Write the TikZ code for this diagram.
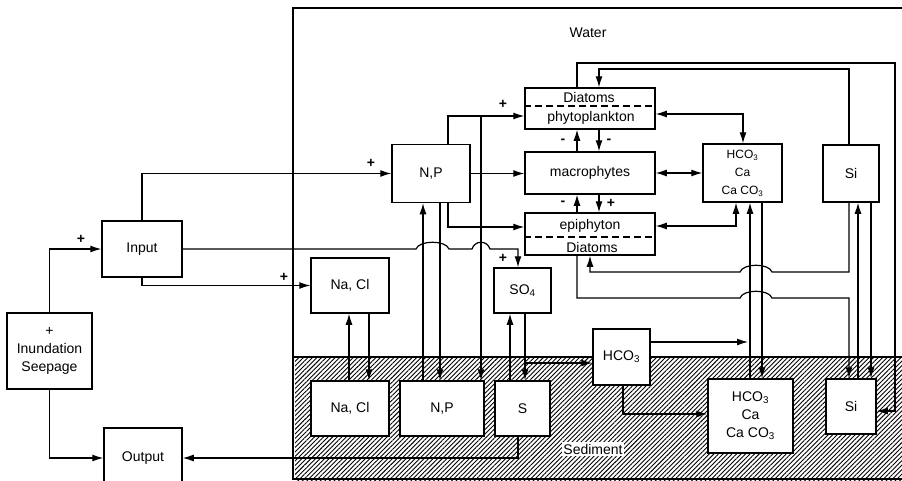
\documentclass[tikz,border=0pt]{standalone}
\usepackage{fontspec}
\setmainfont{Liberation Sans}
\usetikzlibrary{arrows.meta,patterns.meta}
\begin{document}
\begin{tikzpicture}[x=1pt,y=-1pt,
  box/.style={draw,line width=1.5pt,fill=white,inner sep=0pt,font=\fontsize{14}{18}\selectfont,align=center},
  sbox/.style={box,font=\fontsize{12}{18}\selectfont},
  lbl/.style={inner sep=0pt,font=\fontsize{14}{17}\selectfont},
  sgn/.style={inner sep=0pt,font=\fontsize{14}{14}\selectfont\bfseries},
  conn/.style={line width=1.2pt},
  arr/.style={conn,-{Latex[length=11pt,width=7pt]}},
  arr2/.style={conn,{Latex[length=11pt,width=7pt]}-{Latex[length=11pt,width=7pt]}},
  dsh/.style={line width=1.2pt,dash pattern=on 7pt off 4pt},
]
\useasboundingbox (0,0) rectangle (902,480);
\clip (0,0) rectangle (902,480);
% regions
\fill[pattern={Lines[angle=45,distance=3.2pt,line width=0.9pt]}] (295,357) rectangle (902,480);
\draw[line width=1.4pt] (293,357) -- (902,357);
\draw[line width=1.5pt] (902,8) -- (293,8) -- (293,479) -- (902,479);
% columns and rows
\coordinate (cA) at (349,0); \coordinate (cB) at (369,0);
\coordinate (cC) at (423,0); \coordinate (cD) at (440,0);
\coordinate (cE) at (448,0); \coordinate (cF) at (481,0);
\coordinate (cG) at (510,0); \coordinate (cH) at (518,0);
\coordinate (cI) at (525,0); \coordinate (cJ) at (577,0);
\coordinate (cK) at (590,0); \coordinate (cL) at (599,0);
\coordinate (cM) at (623,0); \coordinate (cN) at (736,0);
\coordinate (cO) at (743,0); \coordinate (cP) at (750,0);
\coordinate (cQ) at (762,0); \coordinate (cR) at (849,0);
\coordinate (cS) at (858,0); \coordinate (cT) at (871,0);
\coordinate (cU) at (895,0);
\coordinate (r63) at (0,63); \coordinate (r69) at (0,69);
\coordinate (r106) at (0,106); \coordinate (r114) at (0,114);
\coordinate (r116) at (0,116); \coordinate (r226) at (0,226);
\coordinate (r227) at (0,227); \coordinate (r237) at (0,237);
\coordinate (r249) at (0,249); \coordinate (r272) at (0,272);
\coordinate (r298) at (0,298); \coordinate (r342) at (0,342);
\coordinate (r363) at (0,363); \coordinate (r411) at (0,411);
\coordinate (r414) at (0,414);
\coordinate (j116) at (481,116);
% boxes
\node[box,minimum width=85pt,minimum height=76pt] (inund) at (49.5,351) {+\\Inundation\\Seepage};
\node[box,minimum width=80pt,minimum height=56pt] (input) at (142,249) {Input};
\node[box,minimum width=78pt,minimum height=60pt] (output) at (143,458) {Output};
\node[box,minimum width=78pt,minimum height=58pt] (npw) at (431,173.5) {N,P};
\node[box,minimum width=78pt,minimum height=55pt] (naclw) at (350,285.5) {Na, Cl};
\node[box,minimum width=57pt,minimum height=45pt] (so4) at (522.5,290.5) {SO\textsubscript{4}};
\node[box,minimum width=130pt,minimum height=41pt] (phyto) at (590,108.5) {};
\node[box,minimum width=130pt,minimum height=42pt] (macro) at (590,173) {macrophytes};
\node[box,minimum width=130pt,minimum height=42pt] (epi) at (590,234) {};
\node[sbox,minimum width=79pt,minimum height=58pt] (hcw) at (742.5,173) {HCO\textsubscript{3}\\Ca\\Ca CO\textsubscript{3}};
\node[box,minimum width=56pt,minimum height=57pt] (siw) at (851,173.5) {Si};
\node[box,minimum width=57pt,minimum height=56pt] (hci) at (621.5,357) {HCO\textsubscript{3}};
\node[box,minimum width=78pt,minimum height=55pt] (nacls) at (350,408.5) {Na, Cl};
\node[box,minimum width=84pt,minimum height=55pt] (nps) at (442,408.5) {N,P};
\node[box,minimum width=55pt,minimum height=55pt] (ss) at (522.5,408.5) {S};
\node[box,minimum width=85pt,minimum height=74pt] (hcs) at (750.5,416) {HCO\textsubscript{3}\\Ca\\Ca CO\textsubscript{3}};
\node[box,minimum width=50pt,minimum height=55pt] (sis) at (851,406.5) {Si};
% split boxes
\draw[dsh] (phyto.west |- r106) -- (phyto.east |- r106);
\draw[dsh] (epi.west |- r237) -- (epi.east |- r237);
\node[lbl] (phytoA) at (589,97) {Diatoms};
\node[lbl] (phytoB) at (591,118) {phytoplankton};
\node[lbl] (epiA) at (590,226) {epiphyton};
\node[lbl] (epiB) at (592,247) {Diatoms};
% labels
\node[lbl] (water) at (588,33) {Water};
\node[lbl,fill=white,inner sep=1.5pt] (sed) at (593,449) {Sediment};
\node[sgn] (p1) at (81,239) {+};
\node[sgn] (p2) at (284,277) {+};
\node[sgn] (p3) at (371,163) {+};
\node[sgn] (p4) at (503,104) {+};
\node[sgn] (p5) at (503,258) {+};
\node[sgn] (m1) at (563,141) {-};
\node[sgn] (m2) at (609,141) {-};
\node[sgn] (m3) at (563,203) {-};
\node[sgn] (p6) at (611,203) {+};
% connectors: left side
\draw[arr] (inund.north) |- (input.west);
\draw[arr] (inund.south) |- (output.west);
\draw[arr] (ss.south -| cH) |- (output.east);
\draw[arr] (input.north) |- (npw.west);
\draw[arr] (input.south) |- (naclw.west);
\draw[arr] (input.east) -- (416,249) .. controls (419,240) and (446,240) .. (449,249)
  -- (472,249) .. controls (475,240) and (487,240) .. (490,249)
  -- (r249 -| cH) -- (so4.north -| cH);
% N,P
\draw[arr] (npw.north -| cE) |- (phyto.west |- r116);
\draw[arr] (j116) -- (nps.north -| cF);
\draw[arr] (npw.east) -- (npw.east -| macro.west);
\draw[arr] (npw.south -| cE) |- (epi.west |- r227);
\draw[arr] (npw.south -| cD) -- (nps.north -| cD);
\draw[arr] (nps.north -| cC) -- (npw.south -| cC);
% Na, Cl
\draw[arr] (nacls.north -| cA) -- (naclw.south -| cA);
\draw[arr] (naclw.south -| cB) -- (nacls.north -| cB);
% S
\draw[arr] (ss.north -| cG) -- (so4.south -| cG);
\draw[arr] (so4.south -| cI) -- (ss.north -| cI);
\draw[arr] (r363 -| cI) -- (hci.west |- r363);
% plants
\draw[arr] (macro.north -| cJ) -- (phyto.south -| cJ);
\draw[arr] (phyto.south -| cL) -- (macro.north -| cL);
\draw[arr] (epi.north -| cJ) -- (macro.south -| cJ);
\draw[arr] (macro.south -| cL) -- (epi.north -| cL);
% HCO3 Ca
\draw[arr2] (phyto.east |- r114) -| (hcw.north -| cO);
\draw[arr2] (macro.east) -- (macro.east -| hcw.west);
\draw[arr2] (epi.east |- r226) -| (hcw.south -| cN);
\draw[arr] (hcs.north -| cP) -- (hcw.south -| cP);
\draw[arr] (hcw.south -| cQ) -- (hcs.north -| cQ);
\draw[arr] (hci.east |- r342) -- ([xshift=-2pt]r342 -| cP);
\draw[arr] (hci.south -| cM) |- (hcs.west |- r414);
% Si
\draw[arr] (phyto.north -| cJ) |- (r63 -| cU) |- (sis.east |- r411);
\draw[arr] (siw.north -| cR) |- (r69 -| cL) -- (phyto.north -| cL);
\draw[arr] (siw.south -| cR) -- (r272 -| cR) -- (772,272) .. controls (769,263) and (743,263) .. (740,272)
  -- (r272 -| cK) -- (epi.south -| cK);
\draw[arr] (epi.south -| cJ) -- (r298 -| cJ) -- (740,298) .. controls (743,289) and (769,289) .. (772,298)
  -- (r298 -| cR) -- (sis.north -| cR);
\draw[arr] (sis.north -| cS) -- (siw.south -| cS);
\draw[arr] (siw.south -| cT) -- (sis.north -| cT);
\end{tikzpicture}
\end{document}
